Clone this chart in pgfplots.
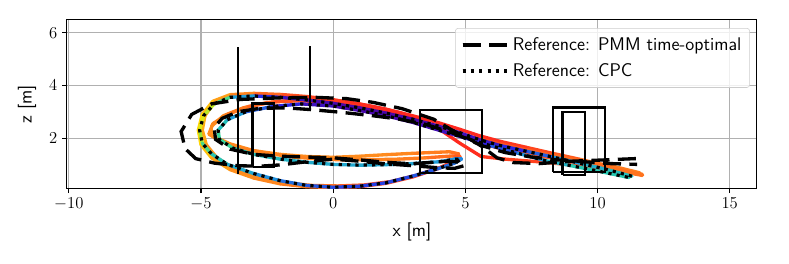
\documentclass[border=0pt]{standalone}
\usepackage{pgfplots}
\pgfplotsset{compat=1.18}
\pgfplotsset{
  colormap={cpcmap}{rgb255=(80,0,160) rgb255=(40,40,230) rgb255=(30,150,220) rgb255=(40,210,170) rgb255=(150,230,60) rgb255=(255,235,0) rgb255=(255,170,0)},
  colormap={runmap}{rgb255=(255,225,0) rgb255=(255,140,30) rgb255=(255,40,30)},
}
\begin{document}
\begin{tikzpicture}
\path[use as bounding box] (-48.2pt,-53.8pt) rectangle (519.9pt,135.6pt);
\begin{axis}[
  scale only axis, width=496.8pt, height=121.4pt,
  xmin=-10.07, xmax=16.03, ymin=0.09, ymax=6.5,
  xtick={-10,-5,0,5,10,15}, ytick={2,4,6},
  tick pos=left, tick align=outside, major tick length=3.5pt,
  every tick/.style={black, line width=0.8pt},
  axis line style={line width=0.8pt},
  grid=major, major grid style={color=black!31, line width=0.8pt},
  tick label style={font=\fontsize{13.2}{15}\selectfont},
  xlabel={x [m]}, ylabel={z [m]},
  xlabel style={font=\sffamily\fontsize{13.2}{15}\selectfont, at={(axis description cs:0.5,-0.259)}, anchor=center},
  ylabel style={font=\sffamily\fontsize{13.2}{15}\selectfont, at={(axis description cs:-0.058,0.5)}, anchor=center},
  point meta min=0, point meta max=1,
  legend style={at={(rel axis cs:1,1)}, anchor=north east, xshift=-5pt, yshift=-6pt,
    font=\sffamily\fontsize{13.2}{15}\selectfont, draw=black!20, rounded corners=2pt,
    fill=white, fill opacity=0.8, text opacity=1, inner xsep=4pt, inner ysep=4.5pt, row sep=4pt},
  legend cell align=left,
  legend image code/.code={\draw[#1] (0pt,0pt) -- (26.4pt,0pt); \path (0pt,0pt) -- (33pt,0pt);},
]
% run A (yellow-orange-red)
\addplot[mesh, point meta=explicit, colormap name=runmap, line width=2.4pt, line cap=round, line join=round, forget plot] table[meta=c]{
x y c
11.7 0.62 0.5
10.5 0.92 0.6
9.3 1.2 0.7
8.3 1.42 0.8
7.3 1.65 0.9
6.3 1.88 0.95
5.5 2.1 1.0
4.8 2.33 1.0
4.0 2.58 1.0
3.0 2.85 1.0
2.0 3.1 1.0
1.0 3.3 0.95
0.0 3.46 0.9
-1.0 3.58 0.85
-2.0 3.66 0.75
-3.0 3.7 0.6
-3.9 3.65 0.45
-4.55 3.4 0.3
-4.95 2.9 0.1
-5.1 2.3 0.0
-5.0 1.75 0.1
-4.6 1.25 0.3
-3.9 0.8 0.45
-3.0 0.48 0.5
-2.0 0.26 0.55
-1.0 0.15 0.6
0.0 0.12 0.7
1.0 0.15 0.8
2.0 0.28 0.85
3.0 0.52 0.9
4.0 0.85 0.9
4.6 1.15 0.85
4.75 1.4 0.7
4.4 1.48 0.6
3.0 1.42 0.55
2.0 1.37 0.5
1.0 1.31 0.5
0.0 1.27 0.5
-1.0 1.3 0.5
-2.0 1.38 0.5
-3.0 1.52 0.5
-3.9 1.78 0.5
-4.6 2.1 0.45
-4.6 2.45 0.45
-4.15 2.85 0.5
-3.4 3.15 0.6
-2.5 3.35 0.7
-1.5 3.45 0.8
-0.5 3.47 0.9
0.5 3.38 0.95
1.5 3.2 1.0
2.5 2.97 1.0
3.3 2.72 1.0
4.0 2.35 1.0
4.8 1.8 1.0
5.6 1.3 0.95
6.5 1.2 0.9
8.0 1.08 0.85
9.5 0.93 0.8
10.5 0.8 0.7
11.7 0.58 0.55
};
% run B
\addplot[mesh, point meta=explicit, colormap name=runmap, line width=2.4pt, line cap=round, line join=round, forget plot] table[meta=c]{
x y c
11.6 0.68 0.55
10.5 0.95 0.6
9.3 1.15 0.65
8.3 1.35 0.7
7.3 1.55 0.75
6.3 1.78 0.8
5.5 1.98 0.85
4.8 2.15 0.9
4.0 2.38 0.95
3.0 2.66 1.0
2.0 2.9 1.0
1.0 3.12 1.0
0.0 3.3 0.95
-1.0 3.45 0.9
-2.0 3.58 0.8
-3.0 3.64 0.65
-3.9 3.6 0.5
-4.5 3.35 0.4
-4.85 2.85 0.3
-4.95 2.3 0.3
-4.8 1.75 0.4
-4.4 1.25 0.5
-3.7 0.8 0.5
-2.8 0.5 0.5
-1.8 0.3 0.55
-0.8 0.2 0.6
0.2 0.18 0.7
1.2 0.22 0.8
2.2 0.35 0.85
3.2 0.6 0.9
4.1 0.9 0.9
4.65 1.12 0.85
4.8 1.3 0.8
4.5 1.32 0.7
3.5 1.25 0.6
2.5 1.2 0.55
1.5 1.18 0.55
0.5 1.17 0.55
-0.5 1.2 0.55
-1.5 1.28 0.55
-2.5 1.42 0.55
-3.5 1.62 0.55
-4.3 1.9 0.5
-4.7 2.15 0.5
-4.55 2.55 0.5
-4.0 2.9 0.55
-3.2 3.2 0.65
-2.2 3.38 0.75
-1.2 3.42 0.85
0.0 3.35 0.9
1.0 3.2 0.95
2.0 3.0 1.0
3.0 2.75 1.0
4.0 2.4 1.0
5.0 2.05 1.0
5.8 1.75 0.95
6.5 1.55 0.9
7.5 1.38 0.8
8.5 1.2 0.75
9.5 1.05 0.7
10.5 0.88 0.65
11.7 0.6 0.6
};
% CPC-following coloured run
\addplot[mesh, point meta=explicit, colormap name=cpcmap, line width=2.4pt, line cap=round, line join=round, forget plot] table[meta=c]{
x y c
11.3 0.55 0.45
10.3 0.82 0.42
9.3 1.05 0.38
8.3 1.28 0.3
7.3 1.5 0.2
6.3 1.72 0.12
5.5 1.95 0.08
4.8 2.2 0.05
4.0 2.45 0.03
3.0 2.72 0.02
2.0 2.95 0.02
1.0 3.15 0.02
0.0 3.32 0.03
-1.0 3.45 0.05
-2.0 3.55 0.1
-3.0 3.6 0.25
-3.9 3.55 0.45
-4.5 3.3 0.65
-4.9 2.85 0.8
-5.05 2.3 0.75
-4.95 1.8 0.6
-4.6 1.4 0.5
-4.0 1.0 0.42
-3.0 0.65 0.35
-2.0 0.38 0.3
-1.0 0.2 0.25
0.0 0.13 0.22
1.0 0.17 0.2
2.0 0.3 0.2
3.0 0.55 0.22
4.0 0.85 0.25
4.6 1.05 0.28
4.85 1.2 0.3
4.6 1.2 0.32
4.0 1.1 0.34
3.0 1.03 0.36
2.0 0.99 0.38
1.0 0.97 0.38
0.0 1.0 0.38
-1.0 1.08 0.4
-2.0 1.2 0.42
-3.0 1.38 0.45
-3.8 1.62 0.5
-4.3 1.95 0.55
-4.35 2.3 0.5
-4.0 2.7 0.4
-3.3 3.0 0.3
-2.3 3.2 0.2
-1.2 3.3 0.1
0.0 3.22 0.05
1.0 3.05 0.03
2.0 2.85 0.03
3.0 2.6 0.04
4.0 2.3 0.06
5.0 2.0 0.1
6.0 1.7 0.18
7.0 1.42 0.28
8.0 1.15 0.38
9.0 0.95 0.45
10.0 0.75 0.5
11.2 0.5 0.45
};
% gates
\addplot[black, line width=1.8pt, forget plot] coordinates {(-3.59,0.62) (-3.59,5.45)};
\addplot[black, line width=1.8pt, forget plot] coordinates {(-3.05,0.9) (-2.23,0.9) (-2.23,3.32) (-3.05,3.32) (-3.05,0.9)};
\addplot[black, line width=1.8pt, forget plot] coordinates {(-0.87,3.06) (-0.87,5.5)};
\addplot[black, line width=1.8pt, forget plot] coordinates {(3.29,0.68) (5.63,0.68) (5.63,3.06) (3.29,3.06) (3.29,0.68)};
\addplot[black, line width=1.8pt, forget plot] coordinates {(8.31,0.71) (10.28,0.71) (10.28,3.17) (8.31,3.17) (8.31,0.71)};
\addplot[black, line width=1.8pt, forget plot] coordinates {(8.68,0.59) (9.53,0.59) (9.53,3.0) (8.68,3.0) (8.68,0.59)};
% PMM reference
\addplot[black, line width=2.4pt, dash pattern=on 13pt off 6pt] coordinates {
(11.45,1.22) (10.0,1.16) (9.0,1.12) (7.8,1.03) (6.8,1.07) (6.2,1.25) (5.6,1.7) (5.1,2.0) (4.5,2.3) (3.8,2.72) (2.6,3.12) (1.5,3.36) (0.5,3.5) (-0.7,3.55) (-2.0,3.53) (-3.5,3.47) (-4.6,3.3) (-5.35,2.9) (-5.75,2.25) (-5.6,1.6) (-5.2,1.22) (-4.5,1.05) (-3.6,0.95) (-2.8,0.93) (-2.0,0.98) (-1.0,1.1) (0.0,1.2) (1.0,1.12) (2.0,1.02) (3.0,0.95) (4.0,0.87) (4.6,0.85) (4.95,0.95) (4.85,1.08) (4.3,1.12) (3.0,1.02) (2.0,1.08) (1.0,1.17) (0.0,1.25) (-1.0,1.28) (-2.0,1.31) (-3.0,1.38) (-3.9,1.58) (-4.45,1.95) (-4.5,2.4) (-4.2,2.75) (-3.6,3.0) (-2.8,3.13) (-1.8,3.15) (-0.8,3.08) (0.3,2.98) (1.5,2.85) (2.5,2.72) (3.5,2.52) (4.5,2.2) (5.0,2.0) (5.6,1.72) (6.5,1.45) (7.5,1.28) (8.5,1.17) (9.5,1.1) (10.5,1.03) (11.5,1.0)
};
\addlegendentry{Reference: PMM time-optimal}
% CPC reference
\addplot[black, line width=2.3pt, dash pattern=on 2.3pt off 3.7pt] coordinates {
(11.3,0.55) (10.3,0.82) (9.3,1.05) (8.3,1.28) (7.3,1.5) (6.3,1.72) (5.5,1.95) (4.8,2.2) (4.0,2.45) (3.0,2.72) (2.0,2.95) (1.0,3.15) (0.0,3.32) (-1.0,3.45) (-2.0,3.55) (-3.0,3.6) (-3.9,3.55) (-4.5,3.3) (-4.9,2.85) (-5.05,2.3) (-4.95,1.8) (-4.6,1.4) (-4.0,1.0) (-3.0,0.65) (-2.0,0.38) (-1.0,0.2) (0.0,0.13) (1.0,0.17) (2.0,0.3) (3.0,0.55) (4.0,0.85) (4.6,1.05) (4.85,1.2) (4.6,1.2) (4.0,1.1) (3.0,1.03) (2.0,0.99) (1.0,0.97) (0.0,1.0) (-1.0,1.08) (-2.0,1.2) (-3.0,1.38) (-3.8,1.62) (-4.3,1.95) (-4.35,2.3) (-4.0,2.7) (-3.3,3.0) (-2.3,3.2) (-1.2,3.3) (0.0,3.22) (1.0,3.05) (2.0,2.85) (3.0,2.6) (4.0,2.3) (5.0,2.0) (6.0,1.7) (7.0,1.42) (8.0,1.15) (9.0,0.95) (10.0,0.75) (11.2,0.5)
};
\addlegendentry{Reference: CPC}
\end{axis}
\end{tikzpicture}
\end{document}
